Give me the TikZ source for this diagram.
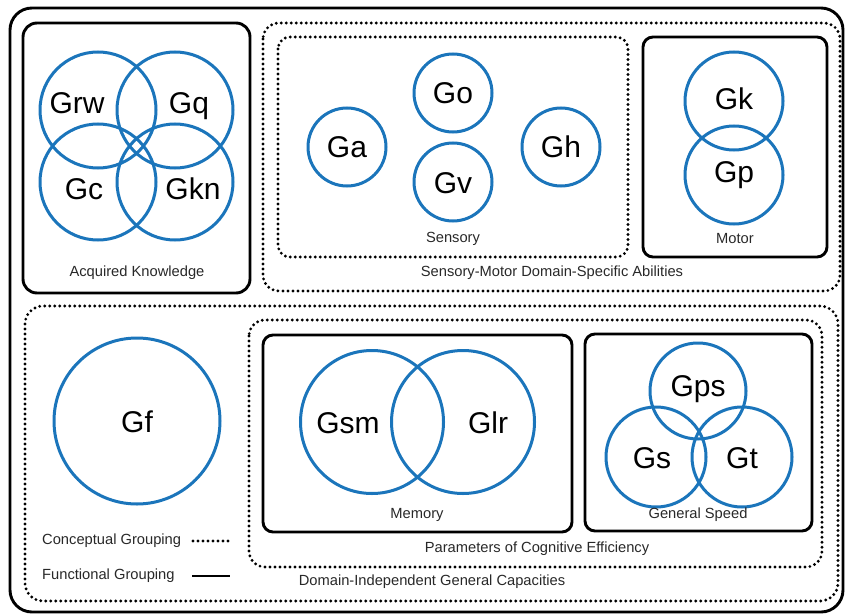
\documentclass[tikz,border=0pt]{standalone}
\usepackage{fontspec}
\setmainfont{Liberation Sans}
\definecolor{abilityblue}{RGB}{27,117,187}
\definecolor{captiongray}{RGB}{40,40,40}
\tikzset{
  ability/.style={circle, draw=abilityblue, line width=3pt, inner sep=0pt, minimum size=#1},
  abbrev/.style={font=\fontsize{30}{32}\selectfont, text height=21.5pt, text depth=0pt, inner sep=0pt, text=black},
  caption/.style={font=\fontsize{14.7}{16}\selectfont, text=captiongray, inner sep=0pt},
  functional/.style={draw=black, line width=2.9pt},
  conceptual/.style={draw=black, line width=3.2pt, line cap=round, dash pattern=on 0pt off 5pt},
}
\begin{document}
\begin{tikzpicture}[x=1pt,y=-1pt]
\useasboundingbox (0,0) rectangle (845,615);

% group frames
\draw[functional, rounded corners=22pt] (10,8) rectangle (843,612);
\draw[functional, rounded corners=14pt] (23,23) rectangle (250,293);
\draw[conceptual, rounded corners=16pt] (263,23) rectangle (840,291);
\draw[conceptual, rounded corners=12pt] (278,37) rectangle (628,257);
\draw[functional, rounded corners=10pt] (643,37) rectangle (827,257);
\draw[conceptual, rounded corners=18pt] (25,306) rectangle (838,601);
\draw[conceptual, rounded corners=16pt] (249,320) rectangle (822,567);
\draw[functional, rounded corners=10pt] (263,335) rectangle (572,532);
\draw[functional, rounded corners=10pt] (585,334) rectangle (812,531);

% acquired knowledge
\node[ability=116pt] (grw) at (98,110) {};
\node[ability=116pt] (gq)  at (175,110) {};
\node[ability=116pt] (gc)  at (98,182) {};
\node[ability=116pt] (gkn) at (175,182) {};
\node[abbrev] (lgrw) at (77,103) {Grw};
\node[abbrev] (lgq)  at (189,103) {Gq};
\node[abbrev] (lgc)  at (84,189) {Gc};
\node[abbrev] (lgkn) at (193,189) {Gkn};
\node[caption] (acq) at (137,273) {Acquired Knowledge};

% sensory
\node[ability=78pt] (ga) at (347,147) {};
\node[ability=78pt] (go) at (453,93) {};
\node[ability=78pt] (gv) at (453,182) {};
\node[ability=78pt] (gh) at (561,147) {};
\node[abbrev] (lga) at (347,147) {Ga};
\node[abbrev] (lgo) at (453,93) {Go};
\node[abbrev] (lgv) at (453,183) {Gv};
\node[abbrev] (lgh) at (561,147) {Gh};
\node[caption] (sens) at (453,239) {Sensory};

% motor
\node[ability=98pt] (gk) at (734,101) {};
\node[ability=98pt] (gp) at (734,175) {};
\node[abbrev] (lgk) at (734,99) {Gk};
\node[abbrev] (lgp) at (734,172) {Gp};
\node[caption] (mot) at (735,239) {Motor};
\node[caption] (smd) at (552,273) {Sensory-Motor Domain-Specific Abilities};

% fluid reasoning
\node[ability=166pt] (gf) at (137,421) {};
\node[abbrev] (lgf) at (137,422) {Gf};

% memory
\node[ability=143pt] (gsm) at (372,422) {};
\node[ability=143pt] (glr) at (463,422) {};
\node[abbrev] (lgsm) at (348,423) {Gsm};
\node[abbrev] (lglr) at (488,423) {Glr};
\node[caption] (mem) at (417,515) {Memory};

% general speed
\node[ability=96pt] (gps) at (698,391) {};
\node[ability=100pt] (gs) at (656,457) {};
\node[ability=100pt] (gt) at (742,457) {};
\node[abbrev] (lgps) at (698,386) {Gps};
\node[abbrev] (lgs) at (652,458) {Gs};
\node[abbrev] (lgt) at (742,458) {Gt};
\node[caption] (spd) at (698,515) {General Speed};

\node[caption] (pce) at (537,549) {Parameters of Cognitive Efficiency};
\node[caption] (dig) at (432,582) {Domain-Independent General Capacities};

% legend
\node[caption, anchor=west] (conc) at (42,541) {Conceptual Grouping};
\node[caption, anchor=west] (func) at (42,576) {Functional Grouping};
\draw[conceptual] (193,541) -- (230,541);
\draw[functional] (192,576) -- (230,576);
\end{tikzpicture}
\end{document}
